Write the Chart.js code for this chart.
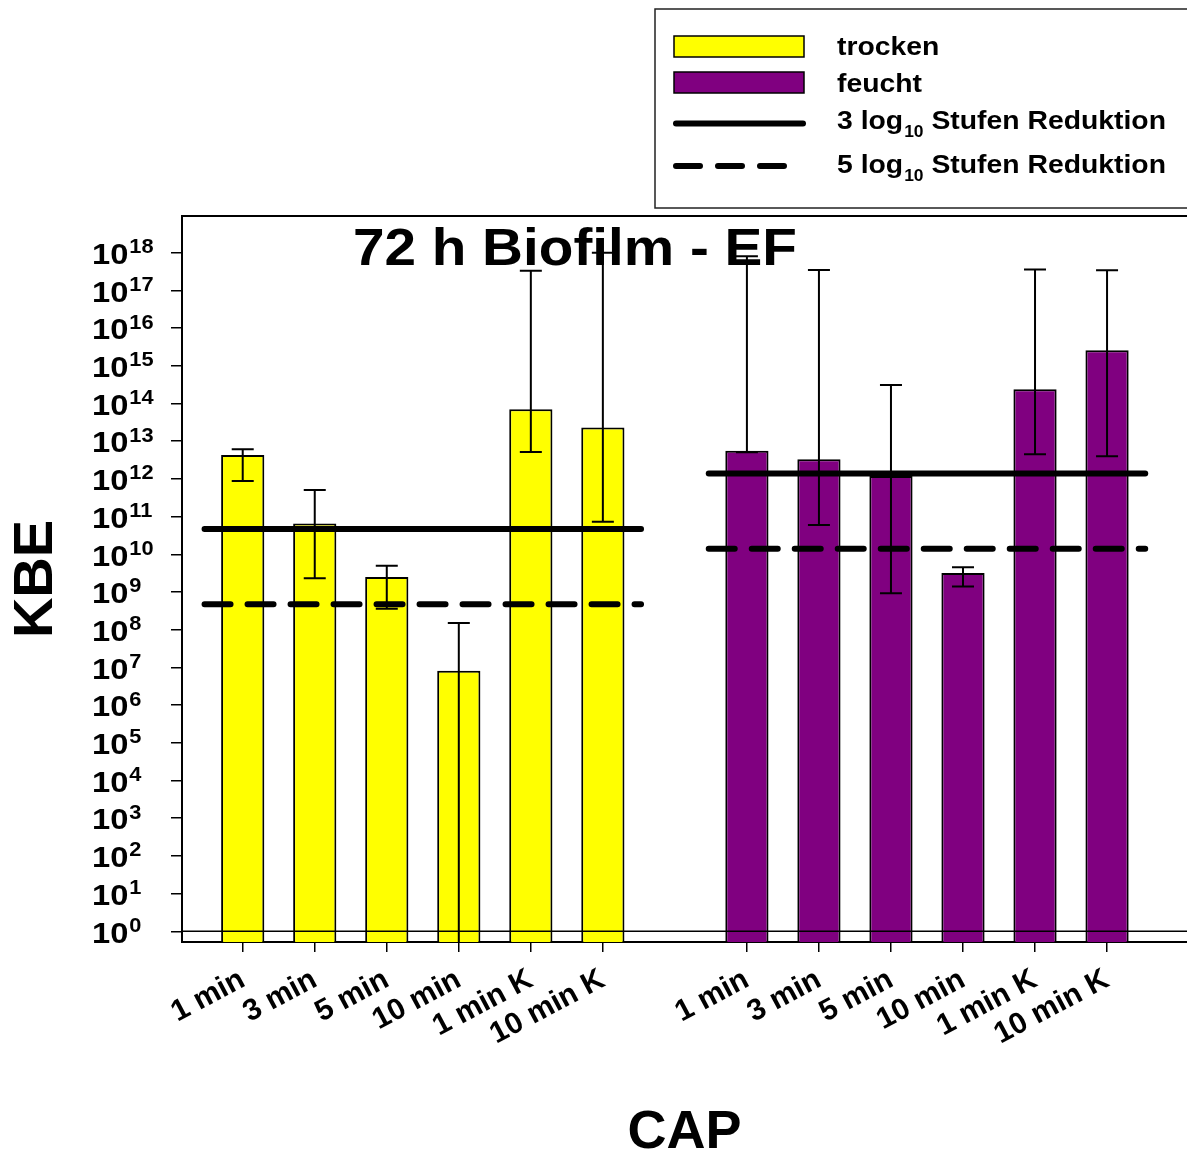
<!DOCTYPE html>
<html>
<head>
<meta charset="utf-8">
<title>72 h Biofilm - EF</title>
<script src="https://cdn.jsdelivr.net/npm/chart.js@4.4.1/dist/chart.umd.min.js"></script>
<style>
  html, body { margin: 0; padding: 0; background: #ffffff; }
  canvas { display: block; }
</style>
</head>
<body>
<canvas id="chart" width="1187" height="1155"></canvas>
<script>
// Treatment times (CAP exposure), shown once per group
const categories = ['1 min', '3 min', '5 min', '10 min', '1 min K', '10 min K'];

// KBE means and error-bar ends, dry (trocken) group
const trockenValues = [4.3e12, 6.6e10, 2.5e9, 8.1e6, 7.0e13, 2.3e13];
const trockenHigh   = [6.1e12, 5.1e11, 5.0e9, 1.5e8, 3.3e17, 1.0e18];
const trockenLow    = [8.8e11, 2.3e9, 3.6e8, 0, 5.2e12, 7.3e10];   // 0 = below axis

// KBE means and error-bar ends, moist (feucht) group
const feuchtValues = [5.6e12, 3.3e12, 1.2e12, 3.2e9, 2.4e14, 2.6e15];
const feuchtHigh   = [8.0e17, 3.5e17, 3.1e14, 4.5e9, 3.6e17, 3.4e17];
const feuchtLow    = [5.1e12, 6.0e10, 9.2e8, 1.4e9, 4.5e12, 4.0e12];

// Reduction thresholds per group: [trocken, feucht]
const reduction3Log = [4.7e10, 1.4e12];
const reduction5Log = [4.7e8, 1.4e10];

// Y tick exponents (labels read 10^n)
const yTickExponents = [0, 1, 2, 3, 4, 5, 6, 7, 8, 9, 10, 11, 12, 13, 14, 15, 16, 17, 18];

// ---------- layout / style ----------
const FONT = '"Liberation Sans", Arial, Helvetica, sans-serif';
const STRETCH = 1.09;               // slightly wide lettering
const YELLOW = '#FFFF00';
const PURPLE = '#800080';
const groupStart = [0, 7];          // one empty slot between the groups
const X_MIN = -0.843, X_MAX = 13.11;
const Y_MIN = 0.52, Y_MAX = 9.4e18;
const LINE_OVERHANG = 0.53;

const xTrocken = categories.map((_, i) => groupStart[0] + i);
const xFeucht  = categories.map((_, i) => groupStart[1] + i);
const tickPositions = xTrocken.concat(xFeucht);
const tickLabels = categories.concat(categories);

const toPoints = (xs, ys) => xs.map((x, i) => ({ x: x, y: ys[i] }));
const span = (xs, y) => [{ x: xs[0] - LINE_OVERHANG, y: y }, { x: xs[xs.length - 1] + LINE_OVERHANG, y: y }];

const errorBars = {
  0: { high: trockenHigh, low: trockenLow },
  1: { high: feuchtHigh, low: feuchtLow }
};

function wideText(ctx, text, x, y, size, align) {
  ctx.save();
  ctx.font = 'bold ' + size + 'px ' + FONT;
  const w = ctx.measureText(text).width * STRETCH;
  let x0 = x;
  if (align === 'center') x0 = x - w / 2;
  else if (align === 'right') x0 = x - w;
  ctx.translate(x0, y);
  ctx.scale(STRETCH, 1);
  ctx.fillStyle = '#000';
  ctx.textAlign = 'left';
  ctx.textBaseline = 'alphabetic';
  ctx.fillText(text, 0, 0);
  ctx.restore();
  return w;
}

// Error bars drawn right after each bar dataset
const errorBarPlugin = {
  id: 'errorBars',
  afterDatasetDraw(chart, args) {
    const eb = errorBars[args.index];
    if (!eb) return;
    const { ctx, chartArea } = chart;
    const yScale = chart.scales.y;
    const cap = 11;
    ctx.save();
    ctx.beginPath();
    ctx.rect(chartArea.left, chartArea.top - 60, chartArea.right - chartArea.left, chartArea.bottom - chartArea.top + 60);
    ctx.clip();
    ctx.strokeStyle = '#000';
    ctx.lineWidth = 2;
    args.meta.data.forEach((bar, i) => {
      const x = bar.x;
      const yHi = yScale.getPixelForValue(eb.high[i]);
      const yLo = eb.low[i] > 0 ? yScale.getPixelForValue(eb.low[i]) : chartArea.bottom;
      ctx.beginPath();
      ctx.moveTo(x, yHi); ctx.lineTo(x, yLo);
      ctx.moveTo(x - cap, yHi); ctx.lineTo(x + cap, yHi);
      if (eb.low[i] > 0) { ctx.moveTo(x - cap, yLo); ctx.lineTo(x + cap, yLo); }
      ctx.stroke();
    });
    ctx.restore();
  }
};

// Power-of-ten tick labels, frame top, title and legend
const decorPlugin = {
  id: 'decor',
  afterDraw(chart) {
    const { ctx, chartArea } = chart;
    const yScale = chart.scales.y;

    // y tick labels 10^n
    yTickExponents.forEach(e => {
      const y = yScale.getPixelForValue(Math.pow(10, e));
      const x = chartArea.left - 90;
      const w = wideText(ctx, '10', x, y + 11.3, 30, 'left');
      wideText(ctx, String(e), x + w + 1, y + 0.5, 20, 'left');
    });

    // top frame line
    ctx.save();
    ctx.strokeStyle = '#000';
    ctx.lineWidth = 2;
    ctx.beginPath();
    ctx.moveTo(chartArea.left, chartArea.top);
    ctx.lineTo(chartArea.right + 2, chartArea.top);
    ctx.stroke();
    ctx.restore();

    // title inside the plot
    wideText(ctx, '72 h Biofilm - EF', chartArea.left + 0.391 * (chartArea.right - chartArea.left), chartArea.top + 49, 52, 'center');

    // legend
    ctx.save();
    ctx.strokeStyle = '#222';
    ctx.lineWidth = 1.5;
    ctx.strokeRect(655, 9, 600, 199);
    ctx.strokeStyle = '#000';
    ctx.fillStyle = YELLOW;
    ctx.fillRect(674, 36, 130, 21); ctx.strokeRect(674, 36, 130, 21);
    ctx.fillStyle = PURPLE;
    ctx.fillRect(674, 72, 130, 21); ctx.strokeRect(674, 72, 130, 21);
    ctx.lineWidth = 6;
    ctx.lineCap = 'round';
    ctx.beginPath(); ctx.moveTo(676, 123.5); ctx.lineTo(803, 123.5); ctx.stroke();
    ctx.setLineDash([24, 18]);
    ctx.beginPath(); ctx.moveTo(676, 166); ctx.lineTo(785, 166); ctx.stroke();
    ctx.restore();

    wideText(ctx, 'trocken', 837, 55, 26, 'left');
    wideText(ctx, 'feucht', 837, 91.5, 26, 'left');
    [['3', 128.5], ['5', 172.5]].forEach(([n, base]) => {
      let x = 837;
      x += wideText(ctx, n + ' log', x, base, 26, 'left');
      x += wideText(ctx, '10', x + 1, base + 8, 16, 'left') + 1;
      wideText(ctx, ' Stufen Reduktion', x, base, 26, 'left');
    });
  }
};

const boldFont = size => ({ family: FONT, size: size, weight: 'bold' });

new Chart(document.getElementById('chart'), {
  type: 'bar',
  data: {
    datasets: [
      {
        label: 'trocken', data: toPoints(xTrocken, trockenValues),
        backgroundColor: YELLOW, borderColor: '#000', borderWidth: 2,
        grouped: false, barPercentage: 0.6, categoryPercentage: 1, order: 3
      },
      {
        label: 'feucht', data: toPoints(xFeucht, feuchtValues),
        backgroundColor: PURPLE, borderColor: '#000', borderWidth: 2,
        grouped: false, barPercentage: 0.6, categoryPercentage: 1, order: 3
      },
      {
        type: 'line', label: 'baseline', data: [{ x: X_MIN, y: 1 }, { x: X_MAX, y: 1 }],
        borderColor: '#000', borderWidth: 1.5, pointRadius: 0, order: 2
      },
      {
        type: 'line', label: '3 log10 trocken', data: span(xTrocken, reduction3Log[0]),
        borderColor: '#000', borderWidth: 6, borderCapStyle: 'round', pointRadius: 0, order: 1
      },
      {
        type: 'line', label: '5 log10 trocken', data: span(xTrocken, reduction5Log[0]),
        borderColor: '#000', borderWidth: 6, borderCapStyle: 'round', borderDash: [26, 17], pointRadius: 0, order: 1
      },
      {
        type: 'line', label: '3 log10 feucht', data: span(xFeucht, reduction3Log[1]),
        borderColor: '#000', borderWidth: 6, borderCapStyle: 'round', pointRadius: 0, order: 1
      },
      {
        type: 'line', label: '5 log10 feucht', data: span(xFeucht, reduction5Log[1]),
        borderColor: '#000', borderWidth: 6, borderCapStyle: 'round', borderDash: [26, 17], pointRadius: 0, order: 1
      }
    ]
  },
  options: {
    responsive: false,
    animation: false,
    events: [],
    layout: { padding: { top: 216, left: 0, right: 0, bottom: 0 } },
    plugins: { legend: { display: false }, tooltip: { enabled: false }, title: { display: false } },
    scales: {
      x: {
        type: 'linear', min: X_MIN, max: X_MAX, offset: false,
        afterBuildTicks: s => { s.ticks = tickPositions.map(v => ({ value: v })); },
        afterFit: s => { s.height = 213; },
        ticks: {
          autoSkip: false, minRotation: 28, maxRotation: 28, padding: 10,
          color: '#000', font: boldFont(30),
          callback: (v, i) => tickLabels[i]
        },
        grid: { drawOnChartArea: false, drawTicks: true, tickLength: 10, color: '#000', lineWidth: 1.5, offset: false },
        border: { display: true, color: '#000', width: 2 },
        title: { display: true, text: 'CAP', color: '#000', font: { family: FONT, size: 54, weight: 'bold', lineHeight: 0.8 }, padding: { top: 0, bottom: 0 } }
      },
      y: {
        type: 'logarithmic', min: Y_MIN, max: Y_MAX,
        afterBuildTicks: s => { s.ticks = yTickExponents.map(e => ({ value: Math.pow(10, e) })); },
        afterFit: s => { s.width = 182; },
        ticks: { display: false },
        grid: { drawOnChartArea: false, drawTicks: true, tickLength: 11, color: '#000', lineWidth: 1.5 },
        border: { display: true, color: '#000', width: 2 },
        title: { display: true, text: 'KBE', color: '#000', font: { family: FONT, size: 56, weight: 'bold', lineHeight: 1 }, padding: { top: 9, bottom: 0 } }
      }
    }
  },
  plugins: [errorBarPlugin, decorPlugin]
});
</script>
</body>
</html>
